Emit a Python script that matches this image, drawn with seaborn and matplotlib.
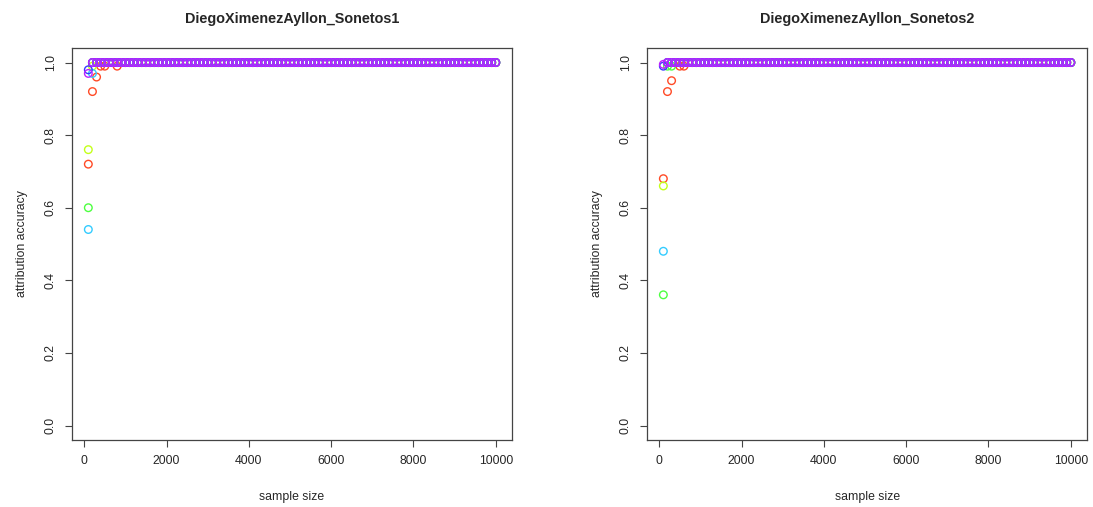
import numpy as np
import pandas as pd
import seaborn as sns
import matplotlib.pyplot as plt

sns.set_style('white')
plt.rcParams['font.family'] = ['Liberation Sans', 'DejaVu Sans']

# sample sizes 100, 200, ..., 10000
sample_size = list(range(100, 10001, 100))
series_names = ['s1', 's2', 's3', 's4', 's5', 's6']
colors = ['#FF4A26', '#C4FF1A', '#4DFF40', '#33CCFF', '#3838FF', '#BB22FF']
titles = ['DiegoXimenezAyllon_Sonetos1', 'DiegoXimenezAyllon_Sonetos2']

# accuracies; everything past the listed points is 1.0
sonetos1_head = {
    's1': [0.72, 0.92, 0.96, 0.99, 0.99, 1.0, 1.0, 0.99],
    's2': [0.76, 0.99],
    's3': [0.60],
    's4': [0.54, 0.97],
    's5': [0.98],
    's6': [0.97],
}
sonetos2_head = {
    's1': [0.68, 0.92, 0.95, 1.0, 0.99, 0.99],
    's2': [0.66],
    's3': [0.36, 0.99, 0.99],
    's4': [0.48],
    's5': [0.99],
    's6': [0.995],
}


def long_frame(head):
    rows = []
    for name in series_names:
        vals = head[name] + [1.0] * (len(sample_size) - len(head[name]))
        for x, y in zip(sample_size, vals):
            rows.append({'sample size': x, 'accuracy': y, 'series': name})
    return pd.DataFrame(rows)


fig = plt.figure(figsize=(10.93, 5.07), dpi=100)
axes = [fig.add_axes([0.0659, 0.1321, 0.4026, 0.7732]),
        fig.add_axes([0.5920, 0.1321, 0.4026, 0.7732])]

for ax, head, title in zip(axes, [sonetos1_head, sonetos2_head], titles):
    df = long_frame(head)
    sns.scatterplot(data=df, x='sample size', y='accuracy', hue='series',
                    hue_order=series_names, palette=colors, s=30,
                    legend=False, ax=ax)
    # open circles like R's pch=1
    coll = ax.collections[0]
    fc = coll.get_facecolors()
    coll.set_edgecolors(fc)
    coll.set_facecolors('none')
    coll.set_linewidths(1.0)

    ax.set_xlim(100 - 0.04 * 9900, 10000 + 0.04 * 9900)
    ax.set_ylim(-0.04, 1.04)
    ax.set_xticks([0, 2000, 4000, 6000, 8000, 10000])
    ax.set_yticks([0.0, 0.2, 0.4, 0.6, 0.8, 1.0])
    ax.set_yticklabels(['0.0', '0.2', '0.4', '0.6', '0.8', '1.0'],
                       rotation=90, va='center')
    ax.tick_params(axis='both', direction='out', length=5, width=0.8,
                   color='#444444', labelsize=8.8, pad=6,
                   bottom=True, left=True)
    for sp in ax.spines.values():
        sp.set_color('#444444')
        sp.set_linewidth(0.9)
    ax.set_xlabel('sample size', fontsize=8.8, labelpad=17)
    ax.set_ylabel('attribution accuracy', fontsize=8.8, labelpad=12)
    ax.set_title(title, fontsize=10.4, fontweight='bold', pad=18)

fig.savefig('out.png', dpi=100)
